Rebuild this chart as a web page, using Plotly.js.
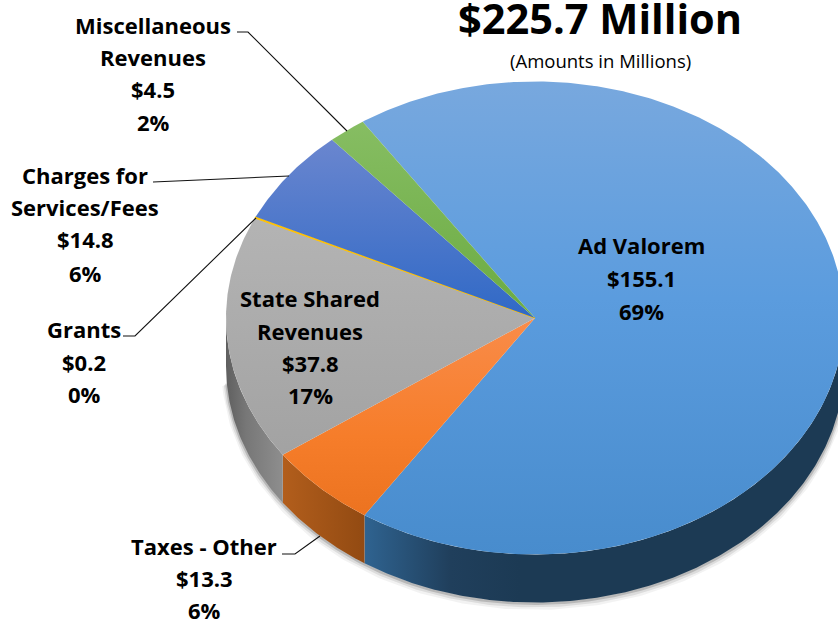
<!DOCTYPE html>
<html><head><meta charset="utf-8">
<script src="https://cdn.plot.ly/plotly-3.0.1.min.js"></script>
<style>html,body{margin:0;padding:0;background:#fff;overflow:hidden}</style>
</head><body><div id="chart" style="width:838px;height:619px"></div>
<script>
// Data
const categories = ["Ad Valorem","Taxes - Other","State Shared Revenues","Grants","Charges for Services/Fees","Miscellaneous Revenues"];
const values = [155.1,13.3,37.8,0.2,14.8,4.5];
const valueLabels = ["$155.1","$13.3","$37.8","$0.2","$14.8","$4.5"];
const percentLabels = ["69%","6%","17%","0%","6%","2%"];
const titleText = "$225.7 Million";
const subtitleText = "(Amounts in Millions)";

// Pie geometry (pixels of the page, which are the axis units)
const CX=535, CY=318, RX=309, RY=236.5, DEPTH=48, START=-33.9;
const FONT="'Open Sans', sans-serif";
const total=values.reduce((a,b)=>a+b,0);
const px=d=>CX+RX*Math.sin(d*Math.PI/180);
const py=(d,off=0)=>CY-RY*Math.cos(d*Math.PI/180)+off;
function arc(a,b,off=0){const xs=[],ys=[];const n=Math.max(2,Math.ceil(Math.abs(b-a)*2));
  for(let i=0;i<=n;i++){const d=a+(b-a)*i/n;xs.push(px(d));ys.push(py(d,off));}return [xs,ys];}

const topGrad=[
 {s:81,e:554,c:[[0,"#78a8de"],[0.46,"#5b9cde"],[1,"#488ccd"]]},
 {s:318,e:515,c:[[0,"#f98c4a"],[0.6,"#f67d2a"],[1,"#ec7320"]]},
 {s:215,e:460,c:[[0,"#b4b4b4"],[1,"#a2a2a2"]]},
 {s:215,e:320,c:[[0,"#ffc000"],[1,"#ffc000"]]},
 {s:140,e:318,c:[[0,"#6a86cf"],[1,"#3069c6"]]},
 {s:125,e:318,c:[[0,"#86bd62"],[1,"#6bab42"]]}
];
const sideGrad=[
 {s:365,e:520,c:[[0,"#2f6390"],[0.55,"#203f5c"],[1,"#1c3a54"]]},
 {s:283,e:365,c:[[0,"#b25e1c"],[1,"#924a12"]]},
 {s:226,e:283,c:[[0,"#5f5f5f"],[0.35,"#777777"],[1,"#8e8e8e"]]}
];

const traces=[];
// soft drop shadow under the front rim
[[9,0.05,3],[6,0.09,2],[3,0.16,1]].forEach(([w,o,dy])=>{
  const [xs,ys]=arc(90,266,DEPTH+dy);
  traces.push({type:"scatter",mode:"lines",x:xs,y:ys,line:{color:`rgba(0,0,0,${o})`,width:w},hoverinfo:"skip",showlegend:false});
});
// wedges
let acc=START; const spans=values.map(v=>{const a=acc;acc+=v/total*360;return [a,acc];});
// side walls (front half only)
spans.forEach(([a,b],i)=>{
  const lo=Math.max(a,90), hi=Math.min(b,270);
  if(hi<=lo||!sideGrad[i])return;
  const [x1,y1]=arc(lo,hi,0),[x2,y2]=arc(hi,lo,DEPTH);
  traces.push({type:"scatter",mode:"lines",x:x1.concat(x2),y:y1.concat(y2),fill:"toself",
    line:{width:0,color:"rgba(0,0,0,0)"},
    fillgradient:{type:"horizontal",start:sideGrad[i].s,stop:sideGrad[i].e,colorscale:sideGrad[i].c},
    hoverinfo:"skip",showlegend:false,name:categories[i]});
});
// top faces
spans.forEach(([a,b],i)=>{
  const [xs,ys]=arc(a,b);
  const g=topGrad[i];
  traces.push({type:"scatter",mode:"lines",x:[CX].concat(xs,[CX]),y:[CY].concat(ys,[CY]),fill:"toself",
    line:{width:i===3?1:0,color:i===3?"#ffc000":"rgba(0,0,0,0)"},
    fillgradient:{type:"vertical",start:g.s,stop:g.e,colorscale:g.c},
    hoverinfo:"skip",showlegend:false,name:categories[i]});
});
// leader lines
const leaders=[
 {x:[237,248,347],y:[32,32,131]},
 {x:[153,289],y:[182,176]},
 {x:[123,135,256],y:[336,336,218]},
 {x:[282,295,320],y:[554,554,536]}
];
leaders.forEach(l=>traces.push({type:"scatter",mode:"lines",x:l.x,y:l.y,line:{color:"#111",width:1.1},hoverinfo:"skip",showlegend:false}));

// labels: one annotation per text line so the line pitch can follow the reference
const ann=[];
function put(text,x,y,size,bold){ann.push({text:bold?`<b>${text}</b>`:text,x,y,xref:"x",yref:"y",showarrow:false,
  xanchor:"center",yanchor:"middle",font:{family:FONT,size,color:"#000"}});}
const LS=22;
const place=[
 {i:0,x:641,y:[245,278,311],name:["Ad Valorem"]},
 {i:1,x:204,y:[546,578,610],name:["Taxes - Other"]},
 {i:2,x:310,y:[298,331,363,395],name:["State Shared","Revenues"]},
 {i:3,x:84,y:[329,362,394],name:["Grants"]},
 {i:4,x:85,y:[175,207,239,273],name:["Charges for","Services/Fees"]},
 {i:5,x:153,y:[25,57,89,122],name:["Miscellaneous","Revenues"]}
];
place.forEach(p=>{p.name.concat([valueLabels[p.i],percentLabels[p.i]]).forEach((t,k)=>put(t,p.x,p.y[k],LS,true));});
put(titleText,600,18,41.5,true);
put(subtitleText,600,60,18.5,false);

Plotly.newPlot("chart",traces,{
  width:838,height:619,margin:{l:0,r:0,t:0,b:0},paper_bgcolor:"#fff",plot_bgcolor:"#fff",showlegend:false,
  xaxis:{range:[0,838],visible:false,fixedrange:true},
  yaxis:{range:[619,0],visible:false,fixedrange:true},
  annotations:ann
},{displayModeBar:false,staticPlot:true});
</script></body></html>
